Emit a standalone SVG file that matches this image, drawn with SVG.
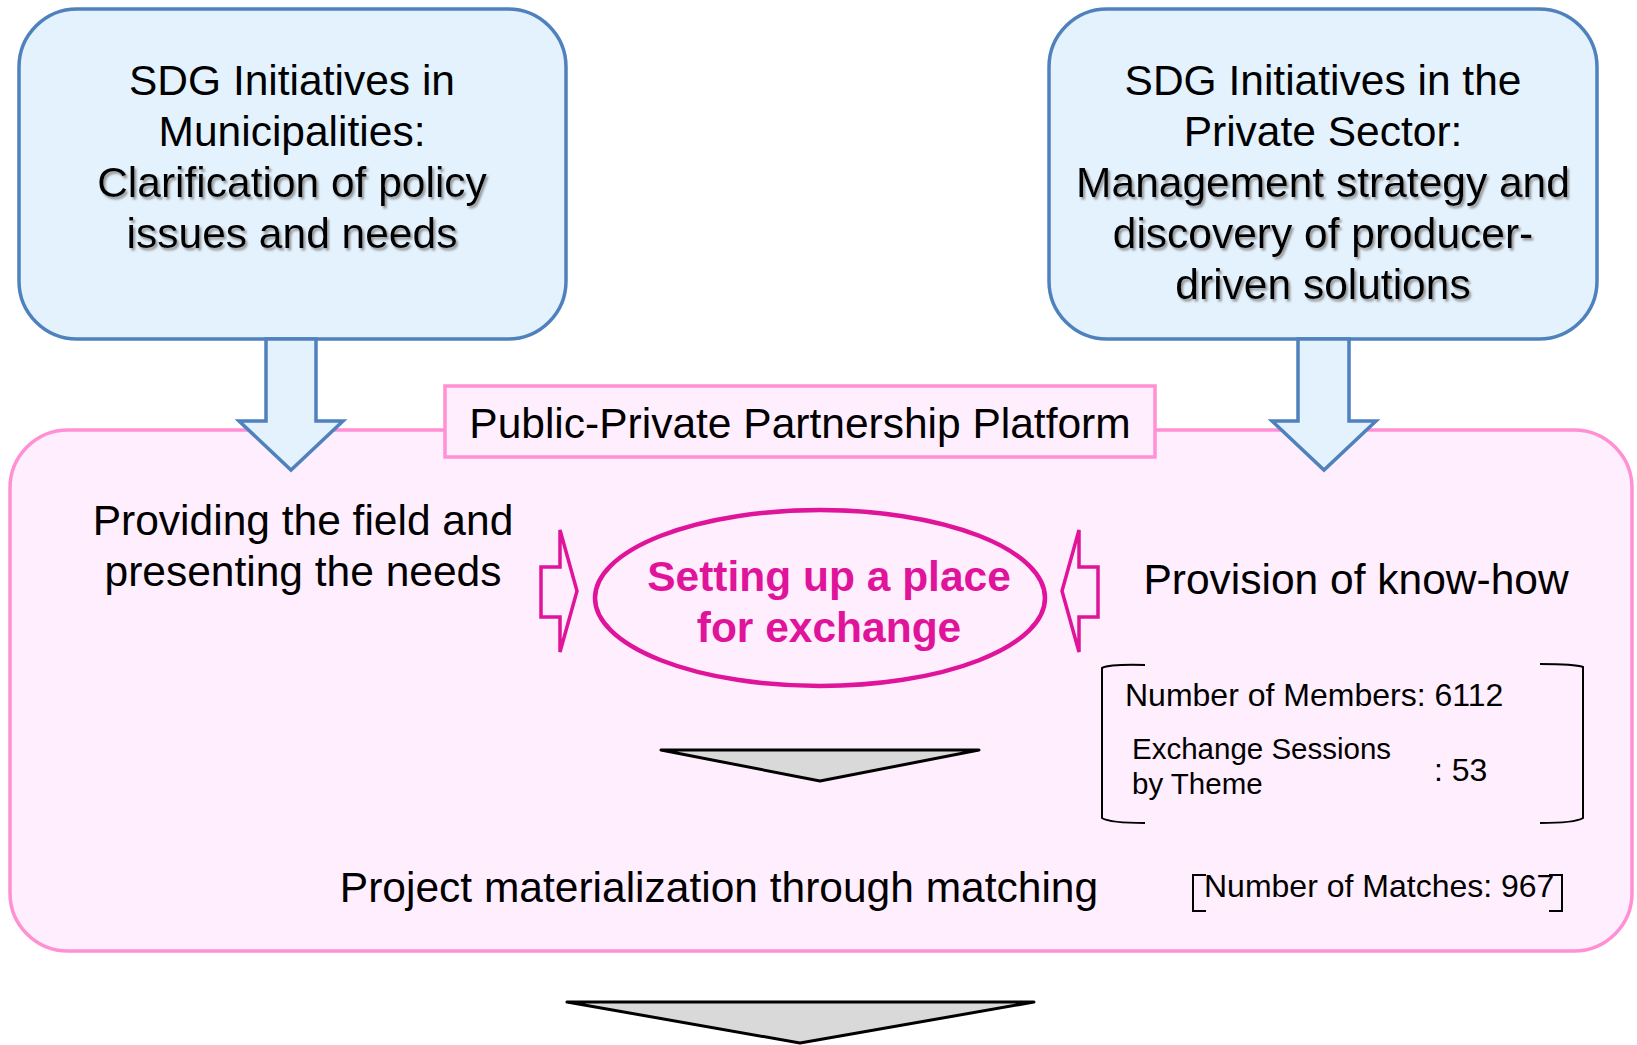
<svg xmlns="http://www.w3.org/2000/svg" width="1637" height="1045" viewBox="0 0 1637 1045">
<defs>
<filter id="shadow" x="-5%" y="-20%" width="110%" height="140%">
<feDropShadow dx="2" dy="2.5" stdDeviation="1" flood-color="#7f7f7f" flood-opacity="0.8"/>
</filter>
</defs>
<style>
text{font-family:"Liberation Sans",Arial,sans-serif;fill:#000;}
.big{font-size:42.5px;text-anchor:middle;}
.sh{filter:url(#shadow);}
.blue{fill:#E4F2FE;stroke:#4F81BD;stroke-width:3.5;}
.pink{fill:#FFEEFD;stroke:#FF90D4;stroke-width:3.5;}
.mag{fill:#FFEEFD;stroke:#E0139B;stroke-width:3.5;}
.magt{fill:#E0139B;font-weight:bold;font-size:42.5px;text-anchor:middle;}
.gray{fill:#D9D9D9;stroke:#000;stroke-width:3;stroke-linejoin:round;}
.brk{fill:none;stroke:#000;stroke-width:2;}
.sm{font-size:32px;}
.sm2{font-size:29.5px;}
</style>

<g id="platform">
<rect class="pink" x="10" y="430" width="1622" height="521" rx="58"/>
</g>

<g id="platform-title">
<rect class="pink" x="445" y="386" width="710" height="71" stroke-width="4"/>
<text class="big" x="800" y="438">Public-Private Partnership Platform</text>
</g>

<g id="municipalities">
<rect class="blue" x="19" y="9" width="547" height="330" rx="58"/>
<text class="big" x="292" y="95">SDG Initiatives in</text>
<text class="big" x="292" y="146">Municipalities:</text>
<text class="big sh" x="292" y="197">Clarification of policy</text>
<text class="big sh" x="292" y="248">issues and needs</text>
</g>

<g id="private-sector">
<rect class="blue" x="1049" y="9" width="548" height="330" rx="58"/>
<text class="big" x="1323" y="95">SDG Initiatives in the</text>
<text class="big" x="1323" y="146">Private Sector:</text>
<text class="big sh" x="1323" y="197">Management strategy and</text>
<text class="big sh" x="1323" y="248">discovery of producer-</text>
<text class="big sh" x="1323" y="299">driven solutions</text>
</g>

<g id="connectors">
<path class="blue" d="M266,339 L316,339 L316,421 L343,421 L291,470 L239,421 L266,421 Z"/>
<path class="blue" d="M1298,339 L1349,339 L1349,421 L1376,421 L1324,470 L1272,421 L1298,421 Z"/>
<path class="mag" d="M541,567 L560,567 L560,530 L577,591 L560,652 L560,617 L541,617 Z"/>
<path class="mag" d="M1098,567 L1079,567 L1079,530 L1062,591 L1079,652 L1079,617 L1098,617 Z"/>
<path class="gray" d="M661,750 L979,750 L820,781 Z"/>
<path class="gray" d="M567,1002 L1034,1002 L800,1043 Z"/>
</g>

<g id="field-needs">
<text class="big" x="303" y="535">Providing the field and</text>
<text class="big" x="303" y="586">presenting the needs</text>
</g>

<g id="exchange">
<ellipse cx="820" cy="598" rx="225" ry="88" fill="none" stroke="#E0139B" stroke-width="4.5"/>
<text class="magt" x="829" y="591">Setting up a place</text>
<text class="magt" x="829" y="642">for exchange</text>
</g>

<g id="know-how">
<text class="big" x="1356" y="594">Provision of know-how</text>
</g>

<g id="stats">
<path class="brk" d="M1145,665 Q1110,664 1102,668 L1102,818 Q1110,823 1145,823"/>
<path class="brk" d="M1540,664 Q1575,664 1583,667 L1583,818 Q1575,823 1540,823"/>
<text class="sm" x="1125" y="706">Number of Members: 6112</text>
<text class="sm2" x="1132" y="759">Exchange Sessions</text>
<text class="sm2" x="1132" y="794">by Theme</text>
<text class="sm" x="1434" y="781">: 53</text>
</g>

<g id="matching">
<text class="big" x="719" y="902">Project materialization through matching</text>
</g>

<g id="matches">
<path class="brk" d="M1206,875 L1193,875 L1193,911 L1206,911"/>
<path class="brk" d="M1549,875 L1562,875 L1562,911 L1549,911"/>
<text class="sm" x="1204" y="897">Number of Matches: 967</text>
</g>
</svg>
